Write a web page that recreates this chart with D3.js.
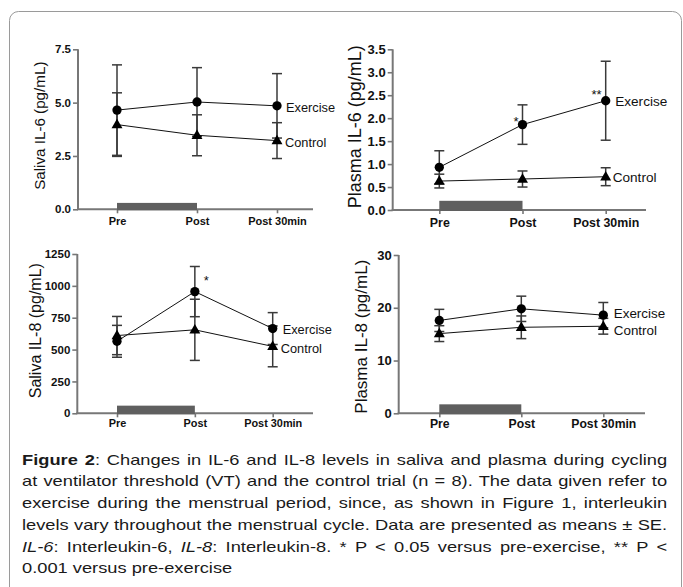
<!DOCTYPE html>
<html>
<head>
<meta charset="utf-8">
<script src="https://cdn.jsdelivr.net/npm/d3@7"></script>
<style>
  html, body { margin: 0; padding: 0; background: #fff; }
  body { width: 683px; height: 587px; overflow: hidden; position: relative; font-family: "Liberation Sans", Arial, sans-serif; }
  #chart { position: absolute; left: 0; top: 0; }
  #caption { position: absolute; left: 22px; top: 449.6px; width: 512px; font-size: 14.5px; line-height: 21.75px; color: #1a1a1a;
             transform: scaleX(1.26); transform-origin: 0 0; }
  #caption .ln { text-align: justify; text-align-last: justify; white-space: nowrap; }
  #caption .ln.last { text-align: left; text-align-last: left; }
</style>
</head>
<body>
<svg id="chart" width="683" height="587"></svg>
<div id="caption"></div>
<script>
// ---------------- DATA ----------------
const categories = ["Pre", "Post", "Post 30min"];
const seriesNames = ["Exercise", "Control"];

const salivaIL6Exercise   = [4.65, 5.03, 4.85];
const salivaIL6ExerciseSE = [2.12, 1.61, 1.51];
const salivaIL6Control    = [3.97, 3.47, 3.22];
const salivaIL6ControlSE  = [1.49, 0.96, 0.84];

const plasmaIL6Exercise   = [0.93, 1.86, 2.38];
const plasmaIL6ExerciseSE = [0.36, 0.43, 0.86];
const plasmaIL6Control    = [0.63, 0.675, 0.725];
const plasmaIL6ControlSE  = [0.15, 0.175, 0.195];

const salivaIL8Exercise   = [565, 955, 665];
const salivaIL8ExerciseSE = [125, 197, 125];
const salivaIL8Control    = [610, 655, 525];
const salivaIL8ControlSE  = [150, 240, 160];

const plasmaIL8Exercise   = [17.6, 19.8, 18.6];
const plasmaIL8ExerciseSE = [2.1, 2.4, 2.4];
const plasmaIL8Control    = [15.1, 16.3, 16.5];
const plasmaIL8ControlSE  = [1.5, 2.15, 1.5];

const salivaIL6Ticks = [0, 2.5, 5.0, 7.5];
const plasmaIL6Ticks = [0, 0.5, 1.0, 1.5, 2.0, 2.5, 3.0, 3.5];
const salivaIL8Ticks = [0, 250, 500, 750, 1000, 1250];
const plasmaIL8Ticks = [0, 10, 20, 30];

const yLabels = ["Saliva IL-6 (pg/mL)", "Plasma IL-6 (pg/mL)", "Saliva IL-8 (pg/mL)", "Plasma IL-8 (pg/mL)"];

// exercise period bar: spans Pre -> Post, height in data units
const exerciseBarSpan = ["Pre", "Post"];
const exerciseBarHeights = [0.3, 0.2, 60, 1.7];

// significance marks: [panel index, category, text]
const significance = [
  [1, "Post", "*"],
  [1, "Post 30min", "**"],
  [2, "Post", "*"]
];

const captionLines = [
  "<b>Figure 2</b>: Changes in IL-6 and IL-8 levels in saliva and plasma during cycling",
  "at ventilator threshold (VT) and the control trial (n = 8). The data given refer to",
  "exercise during the menstrual period, since, as shown in Figure 1, interleukin",
  "levels vary throughout the menstrual cycle. Data are presented as means ± SE.",
  "<i>IL-6</i>: Interleukin-6, <i>IL-8</i>: Interleukin-8. * P &lt; 0.05 versus pre-exercise, ** P &lt;",
  "0.001 versus pre-exercise"
];

// ---------------- PANELS (data binding) ----------------
const panelData = [
  { ex: salivaIL6Exercise, exSE: salivaIL6ExerciseSE, ct: salivaIL6Control, ctSE: salivaIL6ControlSE, ticks: salivaIL6Ticks, fmt: d3.format(".1f") },
  { ex: plasmaIL6Exercise, exSE: plasmaIL6ExerciseSE, ct: plasmaIL6Control, ctSE: plasmaIL6ControlSE, ticks: plasmaIL6Ticks, fmt: d3.format(".1f") },
  { ex: salivaIL8Exercise, exSE: salivaIL8ExerciseSE, ct: salivaIL8Control, ctSE: salivaIL8ControlSE, ticks: salivaIL8Ticks, fmt: d3.format("d") },
  { ex: plasmaIL8Exercise, exSE: plasmaIL8ExerciseSE, ct: plasmaIL8Control, ctSE: plasmaIL8ControlSE, ticks: plasmaIL8Ticks, fmt: d3.format("d") }
];

// ---------------- LAYOUT ----------------
const layouts = [
  { axisX: 78,    yTop: 49.3,  yBottom: 209.3, xRange: [117, 277],     xEnd: 313, tickFont: 11,   yTickFont: 11.5, labelFont: 15.2, legendFont: 12.8, yLab: [39, 125.7],  xLabDy: 13,
    legShift: [[9, 2], [8, 2]], sigOff: {} },
  { axisX: 392.7, yTop: 49.3,  yBottom: 210,   xRange: [439.3, 605.7], xEnd: 646, tickFont: 12.4, yTickFont: 13,   labelFont: 18,   legendFont: 13.6, yLab: [355, 126.7], xLabDy: 13.5,
    legShift: [[9.5, 1], [7, 0.5]], sigOff: { "Post": [-4, 1, "end"], "Post 30min": [-4, -1.5, "end"] } },
  { axisX: 77.3,  yTop: 254,   yBottom: 413.3, xRange: [117, 272.7],   xEnd: 313, tickFont: 10.9, yTickFont: 11.5, labelFont: 16,   legendFont: 12.8, yLab: [35, 330.7],  xLabDy: 11,
    legShift: [[10, 1], [8, 2.5]], sigOff: { "Post": [9, -7, "start"] } },
  { axisX: 398.7, yTop: 255,   yBottom: 413.3, xRange: [439.3, 603.3], xEnd: 645, tickFont: 12.2, yTickFont: 13,   labelFont: 17,   legendFont: 13.4, yLab: [361, 336.7], xLabDy: 11,
    legShift: [[10.5, -2], [10.5, 4]], sigOff: {} }
];

const svg = d3.select("#chart");

// outer frame
svg.append("rect")
  .attr("x", 9.5).attr("y", 11.5)
  .attr("width", 672).attr("height", 640)
  .attr("rx", 9).attr("ry", 9)
  .attr("fill", "none").attr("stroke", "#9a9a9a").attr("stroke-width", 1);

const axisColor = "#777";
const errColor = "#3a3a3a";

panelData.forEach((pd, i) => {
  const L = layouts[i];
  const g = svg.append("g");
  const x = d3.scalePoint().domain(categories).range(L.xRange);
  const y = d3.scaleLinear().domain([0, d3.max(pd.ticks)]).range([L.yBottom, L.yTop]);

  // y axis
  const yAxis = d3.axisLeft(y).tickValues(pd.ticks).tickFormat(pd.fmt).tickSize(5).tickPadding(2);
  const ya = g.append("g").attr("transform", `translate(${L.axisX},0)`).call(yAxis);
  ya.select(".domain").attr("d", `M0,${L.yTop}V${L.yBottom}`).attr("stroke", axisColor).attr("stroke-width", 2);
  ya.selectAll(".tick line").attr("stroke", axisColor).attr("stroke-width", 1.6);
  ya.selectAll(".tick text").attr("font-family", "'Liberation Sans', Arial, sans-serif")
    .attr("font-weight", "bold").attr("font-size", L.yTickFont).attr("fill", "#111");

  // x axis
  const xAxis = d3.axisBottom(x).tickSize(4).tickPadding(L.xLabDy - 9);
  const xa = g.append("g").attr("transform", `translate(0,${L.yBottom})`).call(xAxis);
  xa.select(".domain").attr("d", `M${L.axisX - 1},0H${L.xEnd}`).attr("stroke", axisColor).attr("stroke-width", 2);
  xa.selectAll(".tick line").attr("stroke", axisColor).attr("stroke-width", 1.6);
  xa.selectAll(".tick text").attr("font-family", "'Liberation Sans', Arial, sans-serif")
    .attr("font-weight", "bold").attr("font-size", L.tickFont).attr("fill", "#111");

  // exercise period bar
  const bh = exerciseBarHeights[i];
  g.append("rect")
    .attr("x", x(exerciseBarSpan[0]))
    .attr("y", y(bh))
    .attr("width", x(exerciseBarSpan[1]) - x(exerciseBarSpan[0]))
    .attr("height", y(0) - y(bh) + 1)
    .attr("fill", "#5f5f5f");

  // y label
  g.append("text")
    .attr("transform", `translate(${L.yLab[0]},${L.yLab[1]}) rotate(-90)`)
    .attr("text-anchor", "middle").attr("dominant-baseline", "central")
    .attr("font-family", "'Liberation Sans', Arial, sans-serif")
    .attr("font-size", L.labelFont).attr("fill", "#111")
    .text(yLabels[i]);

  const series = [
    { name: seriesNames[0], vals: pd.ex, se: pd.exSE, sym: "circle" },
    { name: seriesNames[1], vals: pd.ct, se: pd.ctSE, sym: "triangle" }
  ];

  // error bars
  series.forEach(s => {
    const eb = g.append("g").attr("stroke", errColor).attr("stroke-width", 1.5).attr("fill", "none");
    categories.forEach((c, k) => {
      const cx = x(c), hi = y(s.vals[k] + s.se[k]), lo = y(s.vals[k] - s.se[k]);
      eb.append("line").attr("x1", cx).attr("x2", cx).attr("y1", hi).attr("y2", lo);
      eb.append("line").attr("x1", cx - 5).attr("x2", cx + 5).attr("y1", hi).attr("y2", hi);
      eb.append("line").attr("x1", cx - 5).attr("x2", cx + 5).attr("y1", lo).attr("y2", lo);
    });
  });

  // lines
  const line = d3.line().x((d, k) => x(categories[k])).y(d => y(d));
  series.forEach(s => {
    g.append("path").datum(s.vals).attr("d", line)
      .attr("fill", "none").attr("stroke", "#111").attr("stroke-width", 1);
  });

  // markers
  series.forEach(s => {
    const sym = d3.symbol().type(s.sym === "circle" ? d3.symbolCircle : d3.symbolTriangle)
      .size(s.sym === "circle" ? 68 : 52);
    g.selectAll(null).data(s.vals).join("path")
      .attr("d", sym)
      .attr("transform", (d, k) => `translate(${x(categories[k])},${y(d) + (s.sym === "circle" ? 0 : 0.5)})`)
      .attr("fill", "#000");
  });

  // legend labels at series end
  series.forEach((s, si) => {
    const last = categories.length - 1;
    g.append("text")
      .attr("x", x(categories[last]) + L.legShift[si][0])
      .attr("y", y(s.vals[last]) + L.legShift[si][1])
      .attr("dominant-baseline", "central")
      .attr("font-family", "'Liberation Sans', Arial, sans-serif")
      .attr("font-size", L.legendFont).attr("fill", "#111")
      .text(s.name);
  });

  // significance marks (on exercise series)
  significance.filter(d => d[0] === i).forEach(d => {
    const k = categories.indexOf(d[1]);
    const off = L.sigOff[d[1]] || [0, -8, "middle"];
    g.append("text")
      .attr("x", x(d[1]) + off[0])
      .attr("y", y(pd.ex[k]) + off[1])
      .attr("text-anchor", off[2])
      .attr("font-family", "'Liberation Sans', Arial, sans-serif")
      .attr("font-size", 13).attr("fill", "#111")
      .text(d[2]);
  });
});

// caption
d3.select("#caption").selectAll("div").data(captionLines).join("div")
  .attr("class", (d, k) => k === captionLines.length - 1 ? "ln last" : "ln")
  .html(d => d);
</script>
</body>
</html>
